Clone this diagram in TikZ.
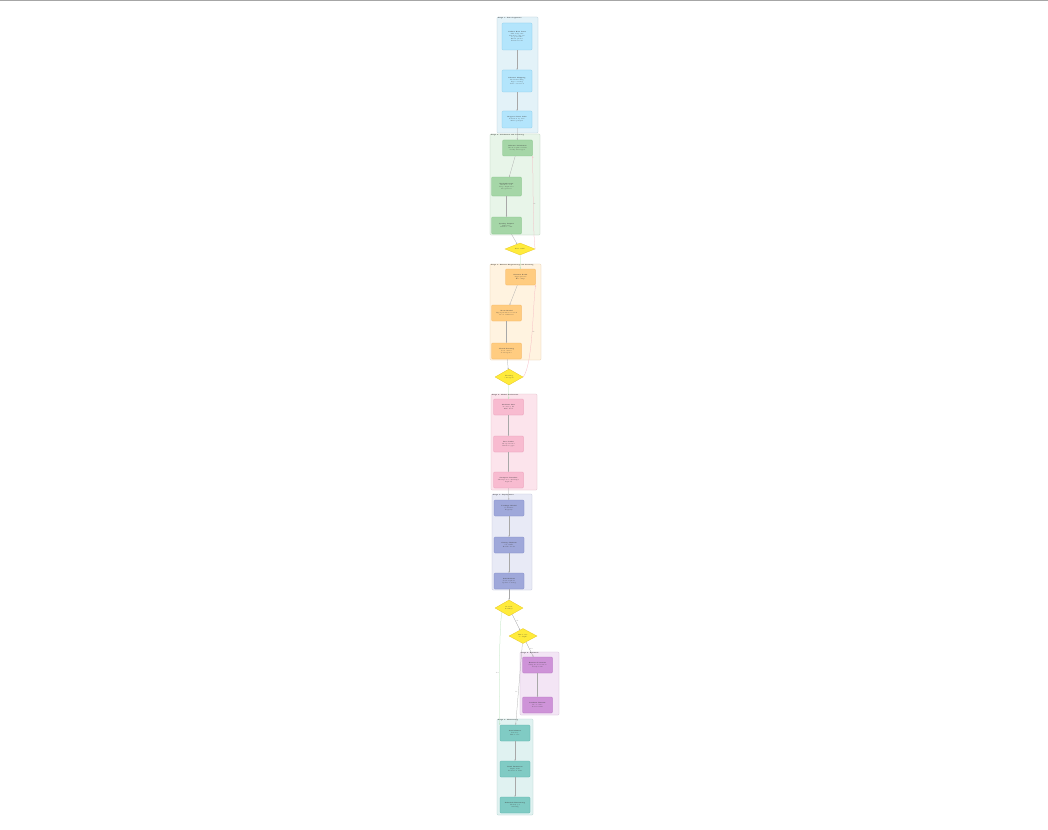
\documentclass[tikz,border=0pt]{standalone}
\usetikzlibrary{shapes.geometric,arrows.meta}

\definecolor{inga}{HTML}{E3F2F8}\definecolor{ingb}{HTML}{B0C8D4}
\definecolor{ingc}{HTML}{B3E5FC}\definecolor{ingd}{HTML}{81C8EA}
\definecolor{vala}{HTML}{E8F5E9}\definecolor{valb}{HTML}{B5CDB6}
\definecolor{valc}{HTML}{A5D6A7}\definecolor{vald}{HTML}{7FBF82}
\definecolor{tra}{HTML}{FFF3E0}\definecolor{trb}{HTML}{E3C9A6}
\definecolor{trc}{HTML}{FFCC80}\definecolor{trd}{HTML}{F2AE55}
\definecolor{eva}{HTML}{FCE4EC}\definecolor{evb}{HTML}{DDB8C4}
\definecolor{evc}{HTML}{F8BBD0}\definecolor{evd}{HTML}{E795B1}
\definecolor{depa}{HTML}{E8EAF6}\definecolor{depb}{HTML}{B9BDD6}
\definecolor{depc}{HTML}{9FA8DA}\definecolor{depd}{HTML}{7D87C6}
\definecolor{rba}{HTML}{F3E5F5}\definecolor{rbb}{HTML}{CDB7D1}
\definecolor{rbc}{HTML}{CE93D8}\definecolor{rbd}{HTML}{B06CBE}
\definecolor{mona}{HTML}{E0F2F1}\definecolor{monb}{HTML}{A9CCC9}
\definecolor{monc}{HTML}{80CBC4}\definecolor{mond}{HTML}{52ADA5}
\definecolor{jaune}{HTML}{FFEB3B}\definecolor{jauneb}{HTML}{E8C825}
\definecolor{retour}{HTML}{F6B3BE}\definecolor{oui}{HTML}{B2E0B4}
\definecolor{trait}{HTML}{A8A8A8}

\newcommand{\fin}[0]{\fontsize{1.5}{1.9}\selectfont}
\newcommand{\grp}[4]{\draw[rounded corners=1pt, line width=0.25pt, draw=#1b, fill=#1a] (#2) rectangle (#3);
	\node[grptitle] (t#1) at (#2) {#4}}
\newcommand{\etape}[5]{\node[etape, fill=#1c, draw=#1d, minimum height=#3] (#2) at (#4) {#5}}
\newcommand{\choix}[5]{\node[choix, minimum width=#3, minimum height=#4] (#1) at (#2) {#5}}

\tikzset{
	x=1pt, y=-1pt,
	grptitle/.style={anchor=north west, inner sep=0.6pt, font=\fin\bfseries, text=black!85},
	etape/.style={rounded corners=1pt, line width=0.3pt, minimum width=30, inner sep=0.4pt,
		align=center, font=\fin, text=black!75},
	choix/.style={diamond, fill=jaune, draw=jauneb, line width=0.3pt, inner sep=0pt,
		align=center, font=\fin, text=black!80},
	lien/.style={-{Stealth[length=1.4pt,width=1.2pt]}, line width=0.25pt, draw=trait},
	boucle/.style={lien, draw=retour},
	passe/.style={lien, draw=oui},
	etiq/.style={font=\fin, text=black!55, inner sep=0.3pt}
}

\begin{document}
\begin{tikzpicture}
	\useasboundingbox (0,0) rectangle (1048,829);
	\fill[white] (0,0) rectangle (1048,829);
	\draw[black!35, line width=0.6pt] (0,0.5) -- (1048,0.5);

	% groupes
	\grp{ing}{497,17}{538,133}{Stage 1: Data Ingestion};
	\grp{val}{490,134}{540,235}{Stage 2: Validation and Cleaning};
	\grp{tr}{490,264}{541,360}{Stage 3: Feature Engineering and Training};
	\grp{ev}{491,394}{537,490}{Stage 4: Model Evaluation};
	\grp{dep}{492,494}{532,590}{Stage 5: Deployment};
	\grp{rb}{520,652}{559,715}{Stage 6: Rollback};
	\grp{mon}{497,719}{533,815}{Stage 7: Monitoring};

	% etapes
	\etape{ing}{n1}{27}{517,36.5}{\textbf{Collect Raw Data}\\API endpoints\\Database exports\\Log streams\\Event queues\\Partner feeds};
	\etape{ing}{n2}{22}{517,81}{\textbf{Schema Mapping}\\Field matching\\Type casting\\Unit conversion};
	\etape{ing}{n3}{17}{517,119.5}{\textbf{Stage to Data Lake}\\Partition by date\\Write parquet};
	\etape{val}{g1}{16}{517.5,148}{\textbf{Schema Validation}\\Check required fields\\Verify data types};
	\etape{val}{g2}{19}{506.5,186.5}{\textbf{Deduplication}\\Hash records\\Drop duplicates\\Keep latest};
	\etape{val}{g3}{17}{506.5,225.5}{\textbf{Quality Report}\\Null ratio\\Outlier count};
	\etape{tr}{o1}{16}{520.5,277}{\textbf{Feature Build}\\Aggregations\\Encodings};
	\etape{tr}{o2}{16}{506.5,313}{\textbf{Train Model}\\Hyperparameter search\\Cross validation};
	\etape{tr}{o3}{16}{506.5,351}{\textbf{Check Training}\\Loss curves\\Convergence};
	\etape{ev}{p1}{16}{508.5,407}{\textbf{Holdout Test}\\Accuracy, F1\\ROC AUC};
	\etape{ev}{p2}{16}{508.5,444}{\textbf{Bias Audit}\\Group metrics\\Fairness gaps};
	\etape{ev}{p3}{16}{508.5,480}{\textbf{Compare Baseline}\\Champion vs challenger\\Sign-off};
	\etape{dep}{b1}{16}{509,508}{\textbf{Package Model}\\Container\\Registry};
	\etape{dep}{b2}{16}{509,545}{\textbf{Canary Release}\\5\% traffic\\Health checks};
	\etape{dep}{b3}{16}{509,581}{\textbf{Full Rollout}\\Scale replicas\\Update routing};
	\etape{rb}{u1}{16}{537.5,665}{\textbf{Restore Previous}\\Swap model version\\Notify team};
	\etape{rb}{u2}{16}{537.5,705}{\textbf{Incident Review}\\Root cause\\Action items};
	\etape{mon}{t1}{16}{515,733}{\textbf{Live Metrics}\\Latency\\Error rate};
	\etape{mon}{t2}{16}{515,769}{\textbf{Drift Detection}\\Input drift\\Prediction drift};
	\etape{mon}{t3}{16}{515,805}{\textbf{Schedule Retraining}\\Weekly job\\Alerting};

	% decisions
	\choix{d1}{520,249}{30}{12}{Data valid?};
	\choix{d2}{509,377}{28}{16}{Training\\converged?};
	\choix{d3}{509,608}{28}{16}{Rollout\\healthy?};
	\choix{d4}{523,636}{28}{15}{Error rate\\too high?};

	% liens
	\draw[lien] (n1) -- (n2);
	\draw[lien] (n2) -- (n3);
	\draw[lien] (n3) -- (g1);
	\draw[lien] (g1) -- (g2);
	\draw[lien] (g2) -- (g3);
	\draw[lien] (g3) -- (d1);
	\draw[passe] (d1) -- (o1);
	\draw[boucle] (d1.east) .. controls (533,238) and (533,172) .. node[etiq, pos=0.5, right] {No} (g1.south east);
	\draw[lien] (o1) -- (o2);
	\draw[lien] (o2) -- (o3);
	\draw[lien] (o3) -- (d2);
	\draw[passe] (d2) -- (p1);
	\draw[boucle] (d2.east) .. controls (533,365) and (533,300) .. node[etiq, pos=0.5, right] {No} (o1.south east);
	\draw[lien] (p1) -- (p2);
	\draw[lien] (p2) -- (p3);
	\draw[lien] (p3) -- (b1);
	\draw[lien] (b1) -- (b2);
	\draw[lien] (b2) -- (b3);
	\draw[lien] (b3) -- (d3);
	\draw[lien] (d3) -- node[etiq, pos=0.5, above right] {No} (d4);
	\draw[passe] (d3.south west) .. controls (499,625) and (499,705) .. node[etiq, pos=0.55, left] {Yes} (t1.north west);
	\draw[lien] (d4) -- node[etiq, pos=0.5, right] {Yes} (u1);
	\draw[lien] (d4) -- node[etiq, pos=0.6, left] {No} (t1);
	\draw[lien] (u1) -- (u2);
	\draw[lien] (t1) -- (t2);
	\draw[lien] (t2) -- (t3);
\end{tikzpicture}
\end{document}
